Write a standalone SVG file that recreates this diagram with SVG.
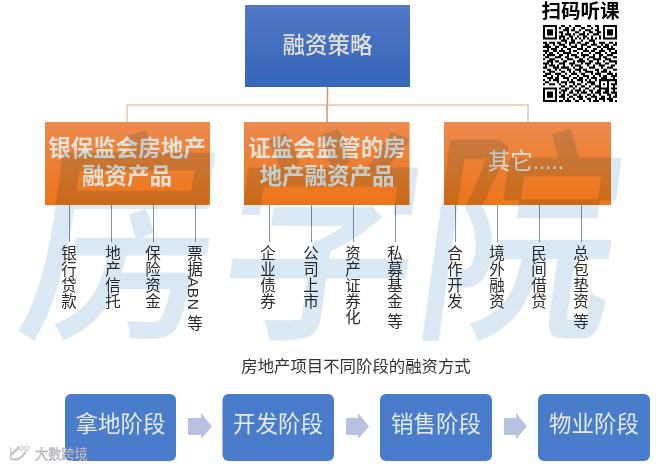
<svg xmlns="http://www.w3.org/2000/svg" width="671" height="468" viewBox="0 0 671 468">
<style>
text{font-family:"Liberation Sans","Noto Sans CJK SC",sans-serif}
.h{font-size:22.5px;font-weight:500;fill:#e4e2d6;text-anchor:middle}
.hb{font-weight:700}
.s{font-size:22.5px;fill:#e6ebf2;text-anchor:middle}
.v{font-size:15.5px;fill:#2b2b2b;writing-mode:vertical-rl;letter-spacing:.5px}
.leaf{stroke:#7f93a8;stroke-width:1;fill:none}
.tree{stroke:#e8c6ac;stroke-width:1.5;fill:none}
.trunk{stroke:#dd9468;stroke-width:1.5;fill:none}
.stage{fill:#4a7ccb}
.arrow{fill:#b6c1e0}
</style>
<defs>
<linearGradient id="b" x1="0" y1="0" x2="0" y2="1"><stop offset="0" stop-color="#5379c6"/><stop offset="1" stop-color="#3366b8"/></linearGradient>
<linearGradient id="o" x1="0" y1="0" x2="0" y2="1"><stop offset="0" stop-color="#ec8a4e"/><stop offset="1" stop-color="#ee7419"/></linearGradient>
<filter id="soft" x="0" y="0" width="1" height="1" filterUnits="objectBoundingBox"><feGaussianBlur stdDeviation="0.45"/></filter>
</defs>
<rect width="671" height="468" fill="#fff"/>
<g filter="url(#soft)">
<g id="connectors">
<path class="tree" d="M127 122V105H528V122"/>
<path class="trunk" d="M327.500 87V105M327 105V122"/>
<path class="leaf" d="M69.500 205V242M111.500 205V242M153.500 205V242M195.500 205V242M269.500 205V242M311.500 205V242M353.500 205V242M395.500 205V242M455.500 205V242M497.500 205V242M539.500 205V242M581.500 205V242"/>
<path class="arrow" d="M188 418H201V413L212 426.500L201 439V435H188Z"/>
<path class="arrow" d="M346 418H358V413L369 426.500L358 439V435H346Z"/>
<path class="arrow" d="M504 418H516V413L527 426.500L516 439V435H504Z"/>
</g>
<g id="root"><rect x="245" y="5" width="165" height="82" fill="url(#b)"/><text class="h" x="327.500" y="53">融资策略</text></g>
<g id="cat1"><rect x="45" y="122" width="165" height="83" fill="url(#o)"/><text class="h hb"><tspan x="127" y="156">银保监会房地产</tspan><tspan x="127" y="184">融资产品</tspan></text></g>
<g id="cat2"><rect x="244" y="122" width="165.500" height="83" fill="url(#o)"/><text class="h hb"><tspan x="327" y="156">证监会监管的房</tspan><tspan x="327" y="184">地产融资产品</tspan></text></g>
<g id="cat3"><rect x="444" y="122" width="167" height="83" fill="url(#o)"/><text class="h" x="526" y="169" style="font-weight:400">其它.....</text></g>
<g id="leaves">
<text class="v" x="67.500" y="245">银行贷款</text>
<text class="v" x="111.500" y="245">地产信托</text>
<text class="v" x="151.500" y="245">保险资金</text>
<text class="v" x="193.500" y="245">票据ABN 等</text>
<text class="v" x="266.500" y="245">企业债券</text>
<text class="v" x="309.500" y="245">公司上市</text>
<text class="v" x="351.500" y="245">资产证券化</text>
<text class="v" x="393.500" y="245">私募基金 等</text>
<text class="v" x="453.500" y="245">合作开发</text>
<text class="v" x="495.500" y="245">境外融资</text>
<text class="v" x="537.500" y="245">民间借贷</text>
<text class="v" x="579.500" y="245">总包垫资 等</text>
</g>
<text id="title" x="356" y="372" font-size="16.400" fill="#333" text-anchor="middle">房地产项目不同阶段的融资方式</text>
<g id="stage1"><rect class="stage" x="65" y="394" width="111" height="67" rx="6"/><text class="s" x="120.500" y="432">拿地阶段</text></g>
<g id="stage2"><rect class="stage" x="222.500" y="394" width="111.500" height="67" rx="6"/><text class="s" x="278" y="432">开发阶段</text></g>
<g id="stage3"><rect class="stage" x="380" y="394" width="112" height="67" rx="6"/><text class="s" x="436" y="432">销售阶段</text></g>
<g id="stage4"><rect class="stage" x="538" y="394" width="112" height="67" rx="6"/><text class="s" x="594" y="432">物业阶段</text></g>
</g>
<text id="watermark" transform="translate(14 322) skewX(-8) scale(1 1.140)" font-size="198" font-weight="500" fill="#d9e8f3" style="mix-blend-mode:multiply" filter="url(#soft)">房学院</text>
<g id="qr" filter="url(#soft)">
<text x="580.500" y="18" font-size="19.500" font-weight="700" fill="#000" text-anchor="middle">扫码听课</text>
<g transform="translate(543 25) scale(2 2.080)">
<path fill="#000" fill-rule="evenodd" d="M0 0h7v7H0zM1 1v5h5V1zM2 2h3v3H2zM30 0h7v7h-7zM31 1v5h5V1zM32 2h3v3h-3zM0 30h7v7H0zM1 31v5h5v-5zM2 32h3v3H2z"/>
<path stroke="#000" stroke-width="1" fill="none" d="M9 .5h2M13 .5h1M16 .5h3M22 .5h2M26 .5h2
M8 1.500h1M11 1.500h2M15 1.500h1M19 1.500h2M24 1.500h1M27 1.500h1
M10 2.500h3M14 2.500h2M18 2.500h1M21 2.500h3M26 2.500h2
M8 3.500h2M12 3.500h1M16 3.500h2M20 3.500h1M23 3.500h2M27 3.500h2
M9 4.500h1M11 4.500h3M15 4.500h1M18 4.500h3M22 4.500h1M25 4.500h3
M8 5.500h3M13 5.500h2M17 5.500h1M20 5.500h2M24 5.500h1M28 5.500h1
M8 6.500h1M10 6.500h1M12 6.500h1M14 6.500h1M16 6.500h1M18 6.500h1M20 6.500h1M22 6.500h1M24 6.500h1M26 6.500h1M28 6.500h1
M9 7.500h3M14 7.500h2M19 7.500h1M23 7.500h3
M0 8.500h2M3 8.500h3M7 8.500h2M11 8.500h1M13 8.500h3M17 8.500h2M21 8.500h2M25 8.500h1M28 8.500h3M33 8.500h2M36 8.500h1
M1 9.500h2M5 9.500h1M8 9.500h3M13 9.500h1M16 9.500h1M19 9.500h3M24 9.500h3M29 9.500h1M31 9.500h2M35 9.500h2
M0 10.500h4M6 10.500h2M10 10.500h2M14 10.500h3M19 10.500h1M22 10.500h2M27 10.500h2M30 10.500h3M34 10.500h1
M2 11.500h1M4 11.500h3M9 11.500h1M12 11.500h2M17 11.500h3M21 11.500h1M25 11.500h2M29 11.500h1M32 11.500h4
M0 12.500h3M5 12.500h2M8 12.500h3M13 12.500h1M15 12.500h2M20 12.500h3M24 12.500h2M28 12.500h3M33 12.500h1M36 12.500h1
M1 13.500h1M3 13.500h2M7 13.500h1M10 13.500h4M17 13.500h1M19 13.500h1M23 13.500h1M26 13.500h3M31 13.500h1M34 13.500h3
M0 14.500h1M2 14.500h4M8 14.500h2M12 14.500h1M14 14.500h3M19 14.500h4M25 14.500h1M28 14.500h2M32 14.500h3
M1 15.500h2M6 15.500h3M11 15.500h2M16 15.500h2M20 15.500h1M23 15.500h3M28 15.500h1M30 15.500h2M35 15.500h2
M0 16.500h1M3 16.500h3M9 16.500h1M12 16.500h3M18 16.500h2M22 16.500h1M25 16.500h4M31 16.500h3
M2 17.500h3M6 17.500h2M10 17.500h2M15 17.500h1M17 17.500h4M23 17.500h2M27 17.500h1M30 17.500h1M33 17.500h4
M0 18.500h3M4 18.500h1M8 18.500h3M13 18.500h3M19 18.500h1M21 18.500h3M26 18.500h3M31 18.500h2M36 18.500h1
M1 19.500h1M3 19.500h3M7 19.500h1M10 19.500h1M14 19.500h1M16 19.500h3M22 19.500h1M25 19.500h1M28 19.500h3M34 19.500h2
M0 20.500h2M5 20.500h3M9 20.500h4M15 20.500h1M18 20.500h2M23 20.500h3M29 20.500h1M32 20.500h3
M2 21.500h2M6 21.500h1M8 21.500h1M12 21.500h2M16 21.500h3M20 21.500h2M26 21.500h2M30 21.500h2M35 21.500h2
M0 22.500h1M3 22.500h3M9 22.500h2M13 22.500h1M15 22.500h1M18 22.500h1M21 22.500h4M27 22.500h1M29 22.500h3M33 22.500h1
M1 23.500h3M6 23.500h3M11 23.500h1M14 23.500h3M19 23.500h2M24 23.500h1M26 23.500h3M32 23.500h3M36 23.500h1
M0 24.500h2M4 24.500h1M7 24.500h1M9 24.500h2M13 24.500h1M17 24.500h1M20 24.500h3M25 24.500h1M28 24.500h1M30 24.500h2M34 24.500h3
M2 25.500h3M6 25.500h2M10 25.500h3M15 25.500h2M18 25.500h2M22 25.500h1M24 25.500h3M29 25.500h3M35 25.500h1
M0 26.500h1M3 26.500h1M5 26.500h3M12 26.500h1M14 26.500h1M17 26.500h3M21 26.500h1M23 26.500h1M26 26.500h1M28 26.500h9
M1 27.500h2M7 27.500h1M9 27.500h3M13 27.500h3M19 27.500h1M22 27.500h4M28 27.500h1M32 27.500h1M36 27.500h1
M0 28.500h1M3 28.500h3M8 28.500h1M11 28.500h1M15 28.500h1M17 28.500h2M21 28.500h1M24 28.500h2M28 28.500h1M30 28.500h1M32 28.500h1M34 28.500h3
M9 29.500h2M13 29.500h2M16 29.500h1M19 29.500h2M23 29.500h1M26 29.500h3M32 29.500h1M35 29.500h1
M8 30.500h1M11 30.500h2M15 30.500h1M18 30.500h1M21 30.500h2M25 30.500h1M28 30.500h5M34 30.500h3
M9 31.500h3M14 31.500h1M16 31.500h3M20 31.500h1M23 31.500h2M27 31.500h2M31 31.500h2M35 31.500h1
M8 32.500h1M10 32.500h1M13 32.500h2M17 32.500h1M19 32.500h3M24 32.500h1M26 32.500h3M30 32.500h3M34 32.500h3
M9 33.500h2M12 33.500h1M15 33.500h2M18 33.500h1M22 33.500h2M25 33.500h1M28 33.500h1M32 33.500h2M36 33.500h1
M8 34.500h3M13 34.500h2M17 34.500h3M21 34.500h1M24 34.500h3M29 34.500h2M33 34.500h1M35 34.500h2
M10 35.500h1M12 35.500h1M15 35.500h1M18 35.500h2M22 35.500h2M26 35.500h1M28 35.500h3M32 35.500h3
M8 36.500h2M11 36.500h3M16 36.500h2M20 36.500h1M23 36.500h1M25 36.500h3M30 36.500h1M33 36.500h2M36 36.500h1"/>
</g>
</g>
<g id="brand" filter="url(#soft)">
<path d="M10 447V458M10 458C15 461 21 460 26 451M11 455L19 447" fill="none" stroke="#c4c9cf" stroke-width="2.500"/>
<circle cx="21" cy="448" r="2" fill="none" stroke="#c4c9cf" stroke-width="1.200"/>
<circle cx="27" cy="448" r="2" fill="none" stroke="#c4c9cf" stroke-width="1.200"/>
<text x="35" y="459" font-size="13.200" fill="#e3e5e8" stroke="#8f949c" stroke-width=".4">大数跨境</text>
</g>
</svg>
